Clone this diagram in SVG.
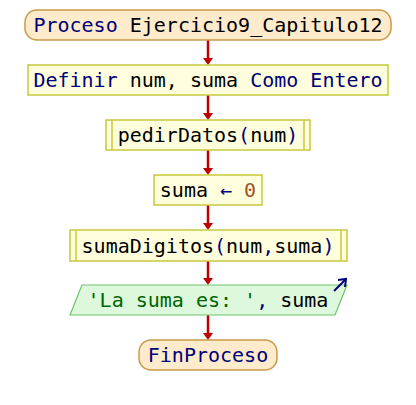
<svg xmlns="http://www.w3.org/2000/svg" width="416" height="405" viewBox="0 0 416 405">
  <defs>
    <style>
      text { font-family: "DejaVu Sans Mono", "Liberation Mono", monospace; font-size: 20px; dominant-baseline: central; }
      .term { fill: #fdebcb; stroke: #c99a4a; stroke-width: 1.5; }
      .proc { fill: #ffffdd; stroke: #c8c83c; stroke-width: 1.5; }
      .out { fill: #ddf8dd; stroke: #6cc46c; stroke-width: 1.2; }
      .kw { fill: #00007a; }
      .id { fill: #000000; }
      .num { fill: #a0522d; }
      .str { fill: #006400; }
      .flow { stroke: #c00000; stroke-width: 2.5; fill: none; }
      .head { fill: #c00000; }
    </style>
  </defs>
  <rect width="416" height="405" fill="#ffffff"/>

  <!-- connectors -->
  <g id="connectors">
    <line class="flow" x1="208" y1="40" x2="208" y2="59"/>
    <polygon class="head" points="203,58 213,58 208,65"/>
    <line class="flow" x1="208" y1="95" x2="208" y2="114"/>
    <polygon class="head" points="203,113 213,113 208,120"/>
    <line class="flow" x1="208" y1="150" x2="208" y2="169"/>
    <polygon class="head" points="203,168 213,168 208,175"/>
    <line class="flow" x1="208" y1="205" x2="208" y2="224"/>
    <polygon class="head" points="203,223 213,223 208,230"/>
    <line class="flow" x1="208" y1="261" x2="208" y2="279"/>
    <polygon class="head" points="203,278 213,278 208,285"/>
    <line class="flow" x1="208" y1="315" x2="208" y2="334"/>
    <polygon class="head" points="203,333 213,333 208,340"/>
  </g>

  <g id="start">
    <rect class="term" x="25" y="10" width="366" height="30" rx="12" ry="12"/>
    <text x="208" y="25" text-anchor="middle"><tspan class="kw">Proceso</tspan><tspan class="id"> Ejercicio9_Capitulo12</tspan></text>
  </g>

  <g id="define">
    <rect class="proc" x="28" y="65" width="360" height="30"/>
    <text x="208" y="80" text-anchor="middle"><tspan class="kw">Definir</tspan><tspan class="id"> num, suma </tspan><tspan class="kw">Como Entero</tspan></text>
  </g>

  <g id="pedirDatos">
    <rect class="proc" x="106" y="120" width="204" height="30"/>
    <line class="proc" x1="112" y1="120" x2="112" y2="150"/>
    <line class="proc" x1="304" y1="120" x2="304" y2="150"/>
    <text x="208" y="135" text-anchor="middle"><tspan class="id">pedirDatos</tspan><tspan class="kw">(</tspan><tspan class="id">num</tspan><tspan class="kw">)</tspan></text>
  </g>

  <g id="assign">
    <rect class="proc" x="154" y="175" width="108" height="30"/>
    <text x="208" y="190" text-anchor="middle"><tspan class="id">suma </tspan><tspan class="kw">←</tspan><tspan class="num"> 0</tspan></text>
  </g>

  <g id="sumaDigitos">
    <rect class="proc" x="70" y="230" width="277" height="31"/>
    <line class="proc" x1="76" y1="230" x2="76" y2="261"/>
    <line class="proc" x1="341" y1="230" x2="341" y2="261"/>
    <text x="208" y="245.5" text-anchor="middle"><tspan class="id">sumaDigitos</tspan><tspan class="kw">(</tspan><tspan class="id">num</tspan><tspan class="kw">,</tspan><tspan class="id">suma</tspan><tspan class="kw">)</tspan></text>
  </g>

  <g id="output">
    <polygon class="out" points="82,285 347,285 335,315 70,315"/>
    <line x1="334" y1="291" x2="345" y2="280" stroke="#00007a" stroke-width="2"/>
    <polyline points="338,280 346,279 345,287" fill="none" stroke="#00007a" stroke-width="2"/>
    <text x="208" y="300" text-anchor="middle"><tspan class="str">'La suma es: '</tspan><tspan class="kw">,</tspan><tspan class="id"> suma</tspan></text>
  </g>

  <g id="end">
    <rect class="term" x="139" y="340" width="138" height="30" rx="12" ry="12"/>
    <text x="208" y="355" text-anchor="middle" class="kw">FinProceso</text>
  </g>
</svg>
